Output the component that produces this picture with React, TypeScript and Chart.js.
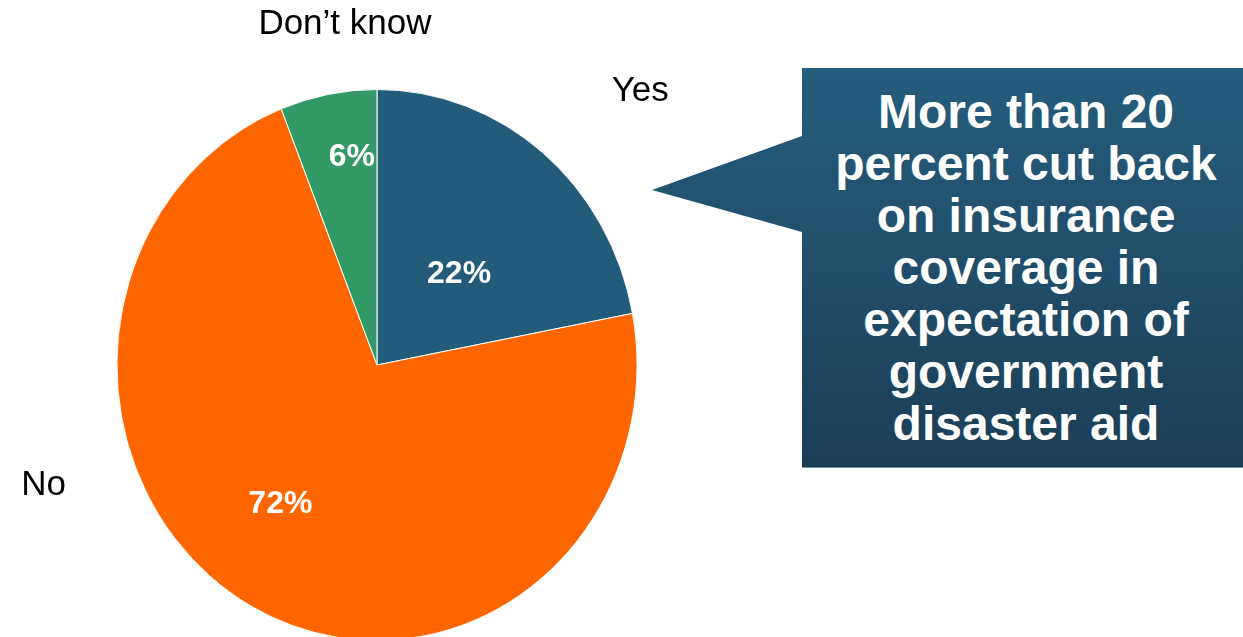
import React, { useEffect, useRef } from 'react';
import { Chart, registerables } from 'chart.js';

Chart.register(...registerables);

// ---- data ----
const categories = ['Yes', 'No', 'Don\u2019t know'];
const values = [22, 72, 6];
const sliceColors = ['#235B7A', '#FF6600', '#339966'];
const calloutLines = [
  'More than 20',
  'percent cut back',
  'on insurance',
  'coverage in',
  'expectation of',
  'government',
  'disaster aid',
];

// horizontal squeeze of the pie (reference pie is slightly elliptical)
const X_SCALE = 0.944;
const FONT = '"Liberation Sans", Arial, Helvetica, sans-serif';

const ellipsePlugin = {
  id: 'ellipse',
  beforeDatasetsDraw(chart: any) {
    const arc = chart.getDatasetMeta(0).data[0];
    if (!arc) return;
    const cx = arc.x;
    const ctx = chart.ctx;
    ctx.save();
    ctx.translate(cx, 0);
    ctx.scale(X_SCALE, 1);
    ctx.translate(-cx, 0);
  },
  afterDatasetsDraw(chart: any) {
    chart.ctx.restore();
  },
};

const labelPlugin = {
  id: 'sliceLabels',
  afterDraw(chart: any, _args: any, opts: any) {
    const ctx = chart.ctx;
    const meta = chart.getDatasetMeta(0);
    const data: number[] = chart.data.datasets[0].data;
    const total = data.reduce((a, b) => a + b, 0);
    ctx.save();
    ctx.textAlign = 'center';
    ctx.textBaseline = 'middle';
    meta.data.forEach((arc: any, i: number) => {
      const { x, y, startAngle, endAngle, outerRadius } = arc.getProps(
        ['x', 'y', 'startAngle', 'endAngle', 'outerRadius'],
        true
      );
      // percentage inside slice
      const mid = (startAngle + endAngle) / 2 + (opts.angleShift[i] * Math.PI) / 180;
      const r = outerRadius * opts.insideRadius[i];
      ctx.font = `bold 32px ${FONT}`;
      ctx.fillStyle = '#ffffff';
      ctx.fillText(
        Math.round((data[i] / total) * 100) + '%',
        x + Math.cos(mid) * r * X_SCALE,
        y + Math.sin(mid) * r
      );
      // category name outside
      const a = ((opts.outerAngle[i] - 90) * Math.PI) / 180;
      const rr = outerRadius * opts.outerRadius[i];
      ctx.font = `35px ${FONT}`;
      ctx.fillStyle = '#000000';
      ctx.fillText(
        chart.data.labels[i],
        x + Math.cos(a) * rr * X_SCALE,
        y + Math.sin(a) * rr
      );
    });
    ctx.restore();
  },
};

export default function App() {
  const ref = useRef<HTMLCanvasElement>(null);

  useEffect(() => {
    if (!ref.current) return;
    const chart = new Chart(ref.current, {
      type: 'pie',
      data: {
        labels: categories,
        datasets: [
          {
            data: values,
            backgroundColor: sliceColors,
            borderColor: '#ffffff',
            borderWidth: 1,
          },
        ],
      },
      options: {
        responsive: false,
        animation: false,
        events: [],
        layout: { padding: { left: 101, top: 89, right: 590, bottom: 59 } },
        plugins: {
          legend: { display: false },
          tooltip: { enabled: false },
          sliceLabels: {
            angleShift: [4.2, 7.6, 3.5],
            insideRadius: [0.456, 0.626, 0.759],
            outerAngle: [45.5, 251.2, 354.3],
            outerRadius: [1.419, 1.354, 1.241],
          },
        } as any,
      },
      plugins: [ellipsePlugin, labelPlugin],
    });
    return () => chart.destroy();
  }, []);

  return (
    <div
      style={{
        position: 'fixed',
        left: 0,
        top: 0,
        width: 1243,
        height: 637,
        overflow: 'hidden',
        background: '#ffffff',
      }}
    >
      <canvas
        ref={ref}
        width={1243}
        height={700}
        style={{ position: 'absolute', left: 0, top: 0, width: 1243, height: 700 }}
      />
      <div
        style={{
          position: 'absolute',
          left: 652,
          top: 68,
          width: 598,
          height: 400,
          background: 'linear-gradient(to bottom, #255D7D 0%, #1B3E56 100%)',
          clipPath:
            'polygon(150px 0, 100% 0, 100% 100%, 150px 100%, 150px 164px, 0 122px, 150px 68px)',
        }}
      >
        <div
          style={{
            position: 'absolute',
            left: 150,
            right: 0,
            bottom: 0,
            height: 1,
            background: '#7390A5',
          }}
        />
        <div
          style={{
            position: 'absolute',
            left: 150,
            right: 0,
            top: 0,
            bottom: 0,
            display: 'flex',
            flexDirection: 'column',
            justifyContent: 'center',
            alignItems: 'center',
            color: '#ffffff',
            fontFamily: FONT,
            fontWeight: 'bold',
            fontSize: 48,
            lineHeight: '52px',
            textAlign: 'center',
          }}
        >
          {calloutLines.map((l, i) => (
            <div key={i} style={{ whiteSpace: 'nowrap' }}>
              {l}
            </div>
          ))}
        </div>
      </div>
    </div>
  );
}
